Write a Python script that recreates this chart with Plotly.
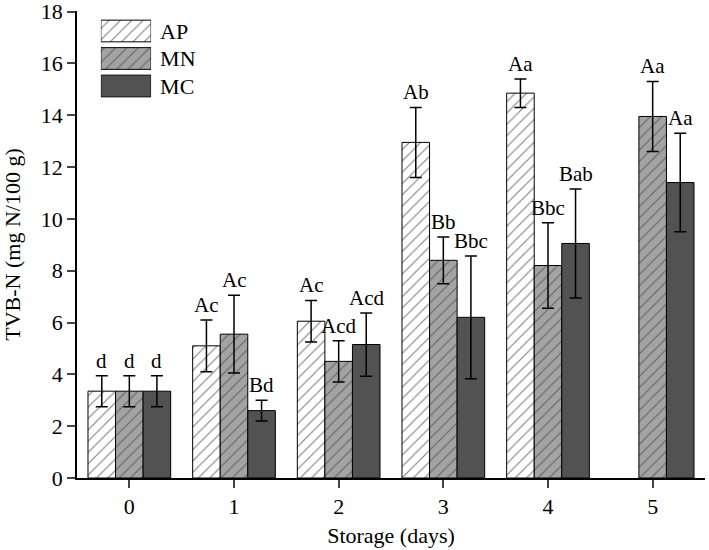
import plotly.graph_objects as go

days = [0, 1, 2, 3, 4, 5]
series_names = ["AP", "MN", "MC"]
ap_vals = [3.35, 5.1, 6.05, 12.95, 14.85, None]
mn_vals = [3.35, 5.55, 4.5, 8.4, 8.2, 13.95]
mc_vals = [3.35, 2.6, 5.15, 6.2, 9.05, 11.4]
ap_err = [0.6, 1.0, 0.8, 1.35, 0.55, None]
mn_err = [0.6, 1.5, 0.8, 0.9, 1.65, 1.35]
mc_err = [0.6, 0.4, 1.22, 2.37, 2.1, 1.9]
ap_lbl = ["d", "Ac", "Ac", "Ab", "Aa", ""]
mn_lbl = ["d", "Ac", "Acd", "Bb", "Bbc", "Aa"]
mc_lbl = ["d", "Bd", "Acd", "Bbc", "Bab", "Aa"]
y_ticks = list(range(0, 19, 2))

FONT = "Liberation Serif"
styles = {
    "AP": dict(color="white", fg="black", shape="/"),
    "MN": dict(color="#a3a3a3", fg="#222222", shape="/"),
    "MC": dict(color="#525252", fg="#525252", shape=""),
}

bargap = 0.21
nser = 3
bw = (1 - bargap) / nser

fig = go.Figure()
data = [(ap_vals, ap_err, ap_lbl), (mn_vals, mn_err, mn_lbl), (mc_vals, mc_err, mc_lbl)]
for i, (name, (vals, errs, lbls)) in enumerate(zip(series_names, data)):
    st = styles[name]
    fig.add_trace(go.Bar(
        x=days, y=vals, name=name, showlegend=False,
        marker=dict(color=st["color"], line=dict(color="black", width=1),
                    pattern=dict(shape=st["shape"], fgcolor=st["fg"], size=8, solidity=0.14, fillmode="overlay")),
        error_y=dict(type="data", array=errs, visible=True, color="black", thickness=1.5, width=6),
    ))
    off = (i - (nser - 1) / 2) * bw
    for d, v, e, t in zip(days, vals, errs, lbls):
        if v is None or not t:
            continue
        fig.add_annotation(x=d + off, y=v + e, text=t, showarrow=False, xref="x", yref="y",
                           yanchor="bottom", yshift=1, font=dict(family=FONT, size=21, color="black"))

# legend swatches drawn as bars on an overlay axis
for name in series_names:
    st = styles[name]
    fig.add_trace(go.Bar(
        x=[1], y=[name], orientation="h", xaxis="x2", yaxis="y2", offsetgroup="leg", showlegend=False,
        marker=dict(color=st["color"], line=dict(color="black", width=1),
                    pattern=dict(shape=st["shape"], fgcolor=st["fg"], size=8, solidity=0.14, fillmode="overlay")),
        hoverinfo="skip",
    ))

fig.update_layout(
    width=709, height=550,
    margin=dict(l=77, r=4, t=11, b=72),
    paper_bgcolor="white", plot_bgcolor="white",
    barmode="group", bargap=bargap, bargroupgap=0,
    font=dict(family=FONT, size=22, color="black"),
    xaxis=dict(range=[-0.5, 5.5], tickvals=days, ticktext=[str(d) for d in days], automargin=False,
               showline=True, linecolor="black", linewidth=1.5, ticks="outside", ticklen=8, tickwidth=1.5,
               showgrid=False, zeroline=False, title=dict(text="Storage (days)", standoff=9, font=dict(size=22)),
               tickfont=dict(size=22), ticklabeloverflow="allow"),
    yaxis=dict(range=[0, 18.02], tickvals=y_ticks, automargin=False,
               showline=True, linecolor="black", linewidth=1.5, ticks="outside", ticklen=8, tickwidth=1.5,
               showgrid=False, zeroline=False, title=dict(text="TVB-N (mg N/100 g)", standoff=14, font=dict(size=22)),
               tickfont=dict(size=22), ticklabeloverflow="allow"),
    xaxis2=dict(domain=[0.038, 0.118], range=[0, 1], anchor="y2", visible=False, fixedrange=True),
    yaxis2=dict(domain=[0.81, 0.9866], anchor="x2", side="right", categoryorder="array",
                categoryarray=["MC", "MN", "AP"], showline=False, ticks="", showgrid=False, automargin=False,
                zeroline=False, tickfont=dict(size=22), ticklabelstandoff=8, ticklabeloverflow="allow"),
)
fig.write_html("out.html", config={"displayModeBar": False},
               post_script="document.body.style.margin='0';document.body.style.overflow='hidden';")
